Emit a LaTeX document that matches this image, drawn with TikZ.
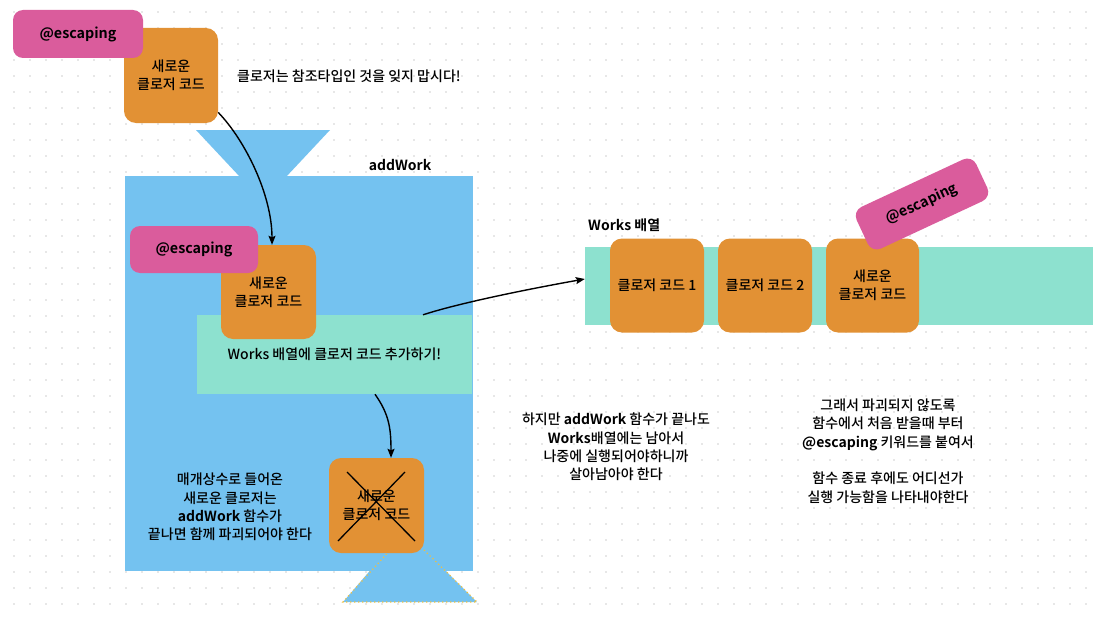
\documentclass[tikz,border=0pt]{standalone}
\usepackage{fontspec}
\setmainfont{Noto Sans CJK KR}[UprightFont=* Medium, BoldFont=* Bold]
\usetikzlibrary{arrows.meta,calc}
\definecolor{pinkc}{HTML}{DA5C9C}
\definecolor{orangec}{HTML}{E29134}
\definecolor{bluec}{HTML}{74C2F0}
\definecolor{greenc}{HTML}{8DE1CF}
\definecolor{dotc}{HTML}{CFCFCF}
\definecolor{dotyel}{HTML}{F0C040}
\newcommand\mysz{\fontsize{14}{18.4}\selectfont}
\begin{document}
\begin{tikzpicture}[x=1pt,y=-1pt,
  orangebox/.style={fill=orangec, rounded corners=12pt, minimum width=94pt, minimum height=94pt, inner sep=0pt, align=center, font=\mysz},
  pinkbox/.style={fill=pinkc, rounded corners=10pt, minimum width=130pt, minimum height=48pt, inner sep=0pt, font=\bfseries\fontsize{14.3}{16}\selectfont},
  note/.style={align=center, font=\mysz, inner sep=0pt},
  boldlabel/.style={font=\bfseries\fontsize{14}{16}\selectfont, inner sep=0pt},
  arr/.style={line width=1.4pt, -{Stealth[length=9pt,width=7pt,inset=1.5pt]}},
  blueshape/.style={fill=bluec}
]
\useasboundingbox (0,0) rectangle (1100,618);
\fill[white] (0,0) rectangle (1100,618);
% dotted grid
\foreach \i in {0,...,68}{\foreach \j in {0,...,38}{\fill[dotc] (14+16*\i,12+16*\j) circle (0.8);}}

% addWork function shape
\fill[blueshape] (196,130) -- (330,130) -- (286,177) -- (240,177) -- cycle;
\node[fill=bluec, minimum width=348pt, minimum height=395pt, inner sep=0pt] (fn) at (299,373.5) {};
\fill[blueshape] (392,545) -- (420,545) -- (477,602) -- (343,602) -- cycle;
\draw[dotyel, line width=1.2pt, dash pattern=on 1.2pt off 2.8pt] (392,548) -- (343,602) -- (477,602) -- (422,548);
\node[boldlabel] (fnlabel) at (400,165) {addWork};

% green add-area
\node[fill=greenc, minimum width=275pt, minimum height=79pt, inner sep=0pt, font=\mysz] (gr) at (334.5,354.5) {Works 배열에 클로저 코드 추가하기!};

% top closure
\node[orangebox, minimum height=95pt] (o1) at (171,75.5) {새로운\\클로저 코드};
\node[pinkbox] (p1) at (78,34) {@escaping};
\node[note, anchor=west] (n1) at (237,76) {클로저는 참조타입인 것을 잊지 맙시다!};

% closure inside function
\node[orangebox, minimum width=95pt] (o2) at (268.5,292) {새로운\\클로저 코드};
\node[pinkbox, minimum width=128pt, minimum height=47pt] (p2) at (194,249.5) {@escaping};

% destroyed closure
\node[orangebox, minimum width=95pt, minimum height=95pt] (ox) at (376.5,505.5) {새로운\\클로저 코드};
\draw[line width=1.3pt] ($(ox.center)+(-29.5,-33.5)$) -- ($(ox.center)+(38.5,35.5)$);
\draw[line width=1.3pt] ($(ox.center)+(28.5,-33.5)$) -- ($(ox.center)+(-38.5,35.5)$);

\node[note] (n2) at (230,507) {매개상수로 들어온\\새로운 클로저는\\\textbf{addWork} 함수가\\끝나면 함께 파괴되어야 한다};

% Works array
\node[boldlabel, anchor=west] (wlabel) at (588,225) {Works 배열};
\node[fill=greenc, minimum width=508pt, minimum height=78pt, inner sep=0pt] (band) at (839,286) {};
\node[orangebox] (a1) at (657,285.5) {클로저 코드 1};
\node[orangebox] (a2) at (765,285.5) {클로저 코드 2};
\node[orangebox, minimum width=93pt] (a3) at (872.5,285.5) {새로운\\클로저 코드};
\node[pinkbox, minimum width=132pt, minimum height=46pt, rotate=25] (p3) at (922,204) {@escaping};

% notes
\node[note] (n3) at (616,447) {하지만 \textbf{addWork} 함수가 끝나도\\\textbf{Works}배열에는 남아서\\나중에 실행되어야하니까\\살아남아야 한다};
\node[note] (n4) at (888,451) {그래서 파괴되지 않도록\\함수에서 처음 받을때 부터\\\textbf{@escaping} 키워드를 붙여서\\[18.4pt]함수 종료 후에도 어디선가\\실행 가능함을 나타내야한다};

% connectors
\draw[arr] (o1.-38) .. controls +(27,28) and +(0,-50) .. ([xshift=3.5pt]o2.north);
\draw[arr] ([xshift=88.5pt]gr.north) .. controls +(40,-13) and +(-45,8) .. ([yshift=7pt]band.west);
\draw[arr] ([xshift=40.5pt]gr.south) .. controls +(14,20) and +(0,-30) .. ([xshift=14.5pt]ox.north);
\end{tikzpicture}
\end{document}
